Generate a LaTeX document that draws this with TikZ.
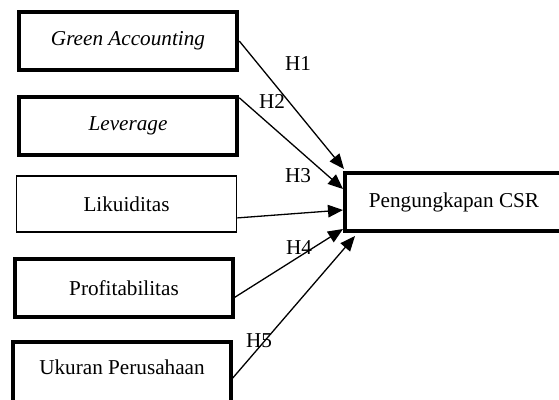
\documentclass[tikz,border=0pt]{standalone}
\usepackage{fontspec}
\setmainfont{Liberation Serif}
\usetikzlibrary{arrows.meta,calc}

\begin{document}
\begin{tikzpicture}[x=1pt,y=-1pt,>={Triangle[length=15pt,width=12.5pt]},
 font=\fontsize{21.2}{25}\selectfont,
 var/.style={draw,line width=4.5pt,minimum width=218pt,minimum height=58pt,inner sep=0pt},
 hl/.style={inner sep=0pt},
 link/.style={->,line width=1.3pt}]
\useasboundingbox (0,0) rectangle (559,399);
\clip (0,0) rectangle (559,399);
% variables
\node[var] (ga) at (128,41) {\textit{Green Accounting}};
\node[var] (lev) at (128,126) {\textit{Leverage}};
\node[var,line width=1.8pt,minimum width=220pt,minimum height=56pt] (lik) at (126.5,204) {Likuiditas};
\node[var] (prof) at (124,288) {Profitabilitas};
\node[var,minimum height=62pt,text depth=12pt] (uk) at (122,373) {Ukuran Perusahaan};
\node[var,line width=4pt] (csr) at (454,202) {Pengungkapan CSR};
% hypotheses
\draw[link] (ga.east) -- ($(csr.north west)+(1,-2)$);
\draw[link] ($(lev.north east)+(0,3)$) -- ($(csr.north west)+(0,18)$);
\draw[link] ($(lik.south east)+(0,-15)$) -- ($(csr.west)+(0,8)$);
\draw[link] ($(prof.south east)+(-2,-21)$) -- ($(csr.south west)+(0,-4)$);
\draw[link] ($(uk.north east)+(-2,40)$) -- ($(csr.south west)+(12,3)$);
\node[hl] (h1) at (298,64) {H1};
\node[hl] (h2) at (272,101) {H2};
\node[hl] (h3) at (298,176) {H3};
\node[hl] (h4) at (299,248) {H4};
\node[hl] (h5) at (259,341) {H5};
\end{tikzpicture}
\end{document}
